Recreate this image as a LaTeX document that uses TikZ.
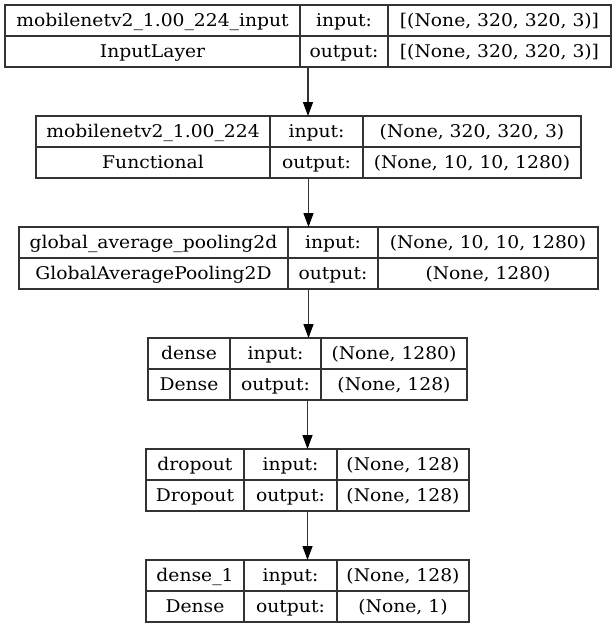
\documentclass[tikz,border=0pt]{standalone}
\usepackage{fontspec}
\setmainfont[FakeStretch=1.07]{DejaVu Serif}
\usetikzlibrary{arrows.meta}
\tikzset{
  kframe/.style={draw=black!80, line width=1.3pt, inner sep=0pt, outer sep=0pt, minimum height=62pt, rectangle},
  kline/.style={draw=black!80, line width=1.3pt},
  ktxt/.style={anchor=base, inner sep=0pt, font=\fontsize{17.5}{20}\selectfont, text=black},
  karrow/.style={draw=black!80, line width=1.3pt, -{Triangle[length=14pt,width=10pt,color=black]}}
}
\newcommand\kbox[6]{%
  \def\kxa{#2}\def\kxb{#3}\def\kxc{#4}\def\kxd{#5}\def\kyt{#6}%
  \pgfmathsetmacro\kw{#5-#2}\pgfmathsetmacro\kcx{(#2+#5)/2}\pgfmathsetmacro\kcy{#6+31}%
  \node[kframe, minimum width=\kw pt] (#1) at (\kcx,\kcy) {};
  \draw[kline] (#3,#6) -- (#3,#6+62);
  \draw[kline] (#4,#6) -- (#4,#6+62);
  \draw[kline] (#2,#6+31) -- (#5,#6+31);
}
\newcommand\ktext[7]{%
  \node[ktxt] (#1-a) at ({(\kxa+\kxb)/2},{\kyt+21}) {#2};
  \node[ktxt] (#1-b) at ({(\kxb+\kxc)/2},{\kyt+21}) {input:};
  \node[ktxt] (#1-c) at ({(\kxc+\kxd)/2},{\kyt+21}) {#3};
  \node[ktxt] (#1-d) at ({(\kxa+\kxb)/2},{\kyt+52}) {#4};
  \node[ktxt] (#1-e) at ({(\kxb+\kxc)/2},{\kyt+52}) {output:};
  \node[ktxt] (#1-f) at ({(\kxc+\kxd)/2},{\kyt+52}) {#5};
}
\begin{document}
\begin{tikzpicture}[x=1pt,y=-1pt]
\useasboundingbox[fill=white] (0,0) rectangle (616,627);
\kbox{b1}{5}{300}{388}{611}{5}
\ktext{b1}{mobilenetv2\_1.00\_224\_input}{[(None, 320, 320, 3)]}{InputLayer}{[(None, 320, 320, 3)]}{}{}
\kbox{b2}{36}{270}{363}{581}{116}
\ktext{b2}{mobilenetv2\_1.00\_224}{(None, 320, 320, 3)}{Functional}{(None, 10, 10, 1280)}{}{}
\kbox{b3}{19}{288}{378}{598}{227}
\ktext{b3}{global\_average\_pooling2d}{(None, 10, 10, 1280)}{GlobalAveragePooling2D}{(None, 1280)}{}{}
\kbox{b4}{148}{230}{321}{467}{338}
\ktext{b4}{dense}{(None, 1280)}{Dense}{(None, 128)}{}{}
\kbox{b5}{146}{244}{337}{469}{449}
\ktext{b5}{dropout}{(None, 128)}{Dropout}{(None, 128)}{}{}
\kbox{b6}{146}{244}{337}{469}{560}
\ktext{b6}{dense\_1}{(None, 128)}{Dense}{(None, 1)}{}{}
\draw[karrow] (b1.south) -- (b1.south |- b2.north);
\draw[karrow] (b2.south) -- (b2.south |- b3.north);
\draw[karrow] (b3.south) -- (b3.south |- b4.north);
\draw[karrow] (b4.south) -- (b4.south |- b5.north);
\draw[karrow] (b5.south) -- (b5.south |- b6.north);
\end{tikzpicture}
\end{document}
